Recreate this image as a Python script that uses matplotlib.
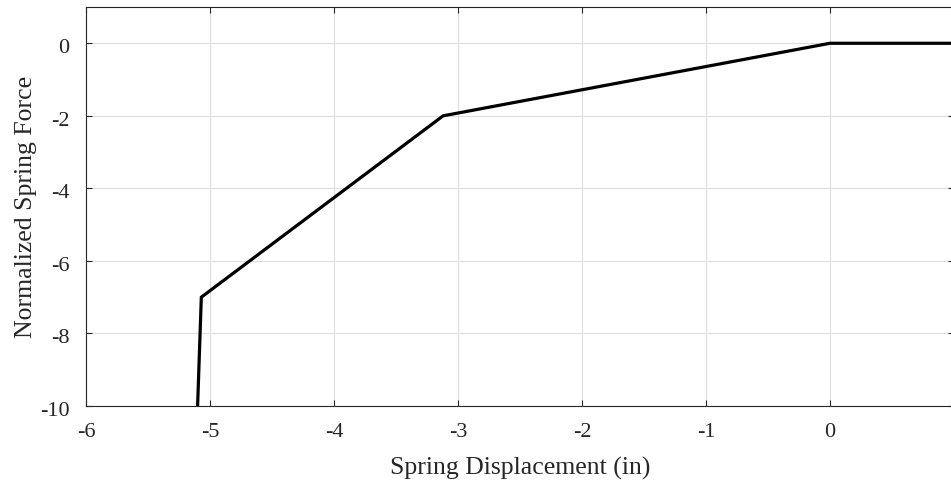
import matplotlib
matplotlib.use("Agg")
import matplotlib.pyplot as plt
import matplotlib.transforms as mtransforms

# Piecewise-linear spring force curve
displacement = [-5.10, -5.07, -3.12, 0.0, 1.0]
force = [-10.0, -7.0, -2.0, 0.0, 0.0]

xticks = [-6, -5, -4, -3, -2, -1, 0]
yticks = [-10, -8, -6, -4, -2, 0]

plt.rcParams["font.family"] = ["Liberation Serif", "DejaVu Serif"]

fig = plt.figure(figsize=(9.51, 4.8), dpi=100)
ax = fig.add_axes([86 / 951, 74 / 480, 868 / 951, 399 / 480])

ax.plot(displacement, force, color="black", linewidth=2.3, solid_joinstyle="miter")

ax.set_xlim(-6, 1)
ax.set_ylim(-10, 1)
ax.set_xticks(xticks)
ax.set_yticks(yticks)
ax.set_xticklabels([str(t) for t in xticks])
ax.set_yticklabels([str(t) for t in yticks])

ax.grid(True, color="#dedede", linewidth=0.8)
ax.set_axisbelow(True)
ax.tick_params(direction="in", length=4, width=0.8, colors="#262626",
               labelsize=16, top=True, right=True)
ax.tick_params(axis="x", pad=12)
ax.tick_params(axis="y", pad=12)

# nudge the y tick labels slightly downward
shift = mtransforms.ScaledTranslation(0, -3 / 100, fig.dpi_scale_trans)
for lbl in ax.get_yticklabels():
    lbl.set_transform(lbl.get_transform() + shift)

for s in ax.spines.values():
    s.set_color("#262626")
    s.set_linewidth(0.8)

ax.set_xlabel("Spring Displacement (in)", fontsize=18.5, color="#262626", labelpad=11)
ax.set_ylabel("Normalized Spring Force", fontsize=18.5, color="#262626", labelpad=2)

fig.savefig("out.png", dpi=100)
